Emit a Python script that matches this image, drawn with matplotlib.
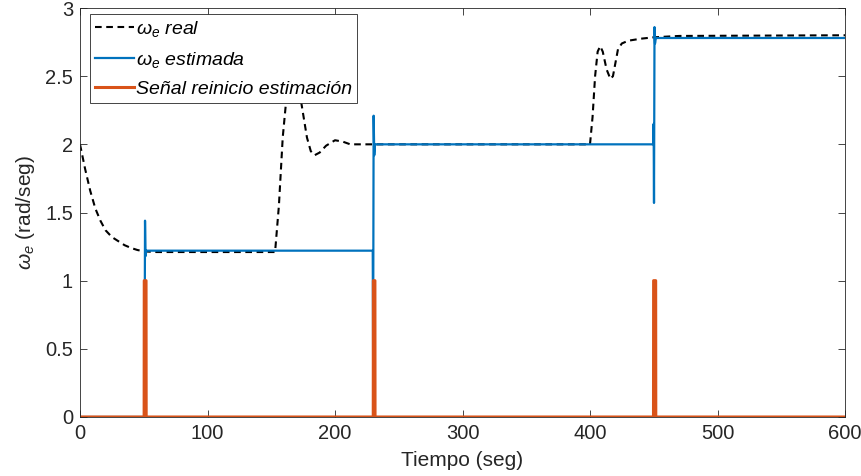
import numpy as np
import matplotlib
matplotlib.use('Agg')
import matplotlib.pyplot as plt

plt.rcParams['font.family'] = ['Liberation Sans', 'DejaVu Sans']
plt.rcParams['mathtext.fontset'] = 'custom'
plt.rcParams['mathtext.it'] = 'Liberation Sans:italic'
plt.rcParams['mathtext.rm'] = 'Liberation Sans'

# omega_e real (dashed)
t_real = [0, 4, 8, 12, 16, 20, 25, 30, 35, 40, 45, 50, 60, 153, 156, 159, 163, 167, 171,
          174, 178, 181, 184, 188, 193, 200, 206, 212, 220, 400, 402, 404, 406, 408,
          410, 413, 416, 418, 420, 422, 425, 430, 440, 450, 470, 600]
w_real = [2.0, 1.82, 1.66, 1.53, 1.44, 1.37, 1.32, 1.29, 1.26, 1.24, 1.225, 1.215, 1.21, 1.21,
          1.55, 2.05, 2.45, 2.55, 2.45, 2.28, 2.05, 1.95, 1.92, 1.94, 1.99, 2.03, 2.02,
          2.0, 2.0, 2.0, 2.2, 2.5, 2.68, 2.72, 2.68, 2.55, 2.48, 2.5, 2.6, 2.7, 2.74,
          2.76, 2.775, 2.785, 2.795, 2.8]

# omega_e estimada
t_est = [0, 50.4, 50.6, 51.0, 51.4, 52.0, 229.6, 229.9, 230.3, 230.8, 231.4, 232.0,
         449.6, 449.9, 450.2, 450.6, 451.0, 451.6, 452.2, 600]
w_est = [0, 0, 0.17, 1.44, 1.18, 1.22, 1.22, 0.4, 2.21, 1.92, 2.0, 2.0,
         2.0, 2.15, 1.57, 2.86, 2.74, 2.78, 2.78, 2.78]

# senal reinicio estimacion
t_reset = [0, 50.3, 50.4, 51.8, 51.9, 230.0, 230.1, 231.3, 231.4, 449.8, 449.9, 451.5, 451.6, 600]
s_reset = [0, 0, 1, 1, 0, 0, 1, 1, 0, 0, 1, 1, 0, 0]

fig = plt.figure(figsize=(8.61, 4.76), dpi=100)
ax = fig.add_axes([80/861, 59/476, 765/861, 409/476])

ax.plot(t_real, w_real, color='k', lw=1.5, ls=(0, (3.2, 2.2)), label=r'$\omega_e$ real')
ax.plot(t_est, w_est, color='#0072BD', lw=1.6, label=r'$\omega_e$ estimada')
ax.plot(t_reset, s_reset, color='#D95319', lw=2.2, label='Señal reinicio estimación')

ax.set_xlim(0, 600)
ax.set_ylim(0, 3)
ax.set_xticks(np.arange(0, 601, 100))
ax.set_yticks(np.arange(0, 3.01, 0.5))
ax.set_yticklabels(['0', '0.5', '1', '1.5', '2', '2.5', '3'])
ax.tick_params(direction='in', length=5, width=0.6, top=True, right=True,
               labelsize=14.5, colors='#262626', pad=5)
for s in ax.spines.values():
    s.set_linewidth(0.6)
    s.set_color('#262626')

ax.set_xlabel('Tiempo (seg)', fontsize=15, color='#262626', labelpad=6)
ax.set_ylabel(r'$\omega_e$ (rad/seg)', fontsize=15, color='#262626', labelpad=6)

leg = ax.legend(loc='upper left', bbox_to_anchor=(0.013, 0.985),
                prop={'style': 'italic', 'size': 14}, frameon=True, fancybox=False,
                edgecolor='#262626', framealpha=1, handlelength=2.0, handletextpad=0.1,
                borderpad=0.25, labelspacing=0.55, borderaxespad=0)
leg.get_frame().set_linewidth(0.6)

fig.savefig('out.png', dpi=100)
